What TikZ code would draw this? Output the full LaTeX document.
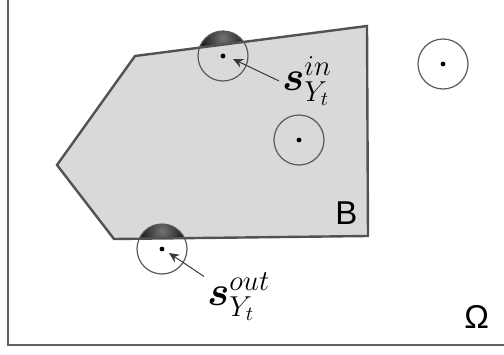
\documentclass[tikz,border=0pt]{standalone}
\usepackage{amsmath}
\usepackage{fontspec}
\newfontfamily\signfont{Liberation Sans}
\usetikzlibrary{arrows.meta}

\begin{document}
\begin{tikzpicture}[
  x=0.5pt, y=-0.5pt,
  >={Stealth[length=5pt,width=4.5pt]},
  frame/.style={draw=black!62, line width=1pt},
  regionfill/.style={fill=black!15},
  regionline/.style={draw=black!68, line width=1.2pt, line join=miter},
  disc/.style={draw=black!65, line width=0.6pt},
  darkcap/.style={inner color=black!55, outer color=black!92},
  ptr/.style={->, draw=black!78, line width=0.5pt},
  sign/.style={inner sep=0pt, anchor=base west, font=\signfont\fontsize{16.5}{18}\selectfont},
  spot/.style={inner sep=1.5pt, font=\fontsize{20}{24}\selectfont}
]
\useasboundingbox (0,0) rectangle (504,354);

\coordinate (cin) at (223,56);
\coordinate (cout) at (162,249);
\coordinate (cmid) at (299,140);
\coordinate (cfree) at (443,64);
\coordinate (tipin) at (233,59);
\coordinate (tipout) at (169,253);

% domain and set B
\draw[frame] (8,0) |- (504,345);
\fill[regionfill] (135,56) -- (367,26) -- (368,236) -- (114,239) -- (57,165) -- cycle;

% shaded caps
\begin{scope}
  \clip (cin) circle (25);
  \clip (135,56) -- (367,26) -- (367,0) -- (135,0) -- cycle;
  \shade[darkcap] (223,38) circle (24);
\end{scope}
\begin{scope}
  \clip (cout) circle (25);
  \clip (114,239) -- (368,236) -- (368,150) -- (114,150) -- cycle;
  \shade[darkcap] (162,231) circle (24);
\end{scope}

\draw[regionline] (135,56) -- (367,26) -- (368,236) -- (114,239) -- (57,165) -- cycle;

% balls
\draw[disc] (cin) circle (25);
\draw[disc] (cout) circle (25);
\draw[disc] (cmid) circle (25);
\draw[disc] (cfree) circle (25);
\fill (cin) circle (2.4);
\fill (cout) circle (2.4);
\fill (cmid) circle (2.4);
\fill (cfree) circle (2.4);

\node[spot, anchor=west] (sin) at (279,81) {$\boldsymbol{s}^{in}_{Y_t}$};
\node[spot, anchor=north west] (sout) at (204,269) {$\boldsymbol{s}^{out}_{Y_t}$};
\draw[ptr] (sin.west) -- (tipin);
\draw[ptr] (sout.150) -- (tipout);

\node[sign] (labB) at (335,224) {B};
\node[sign] (labOmega) at (464,328) {Ω};
\end{tikzpicture}
\end{document}
